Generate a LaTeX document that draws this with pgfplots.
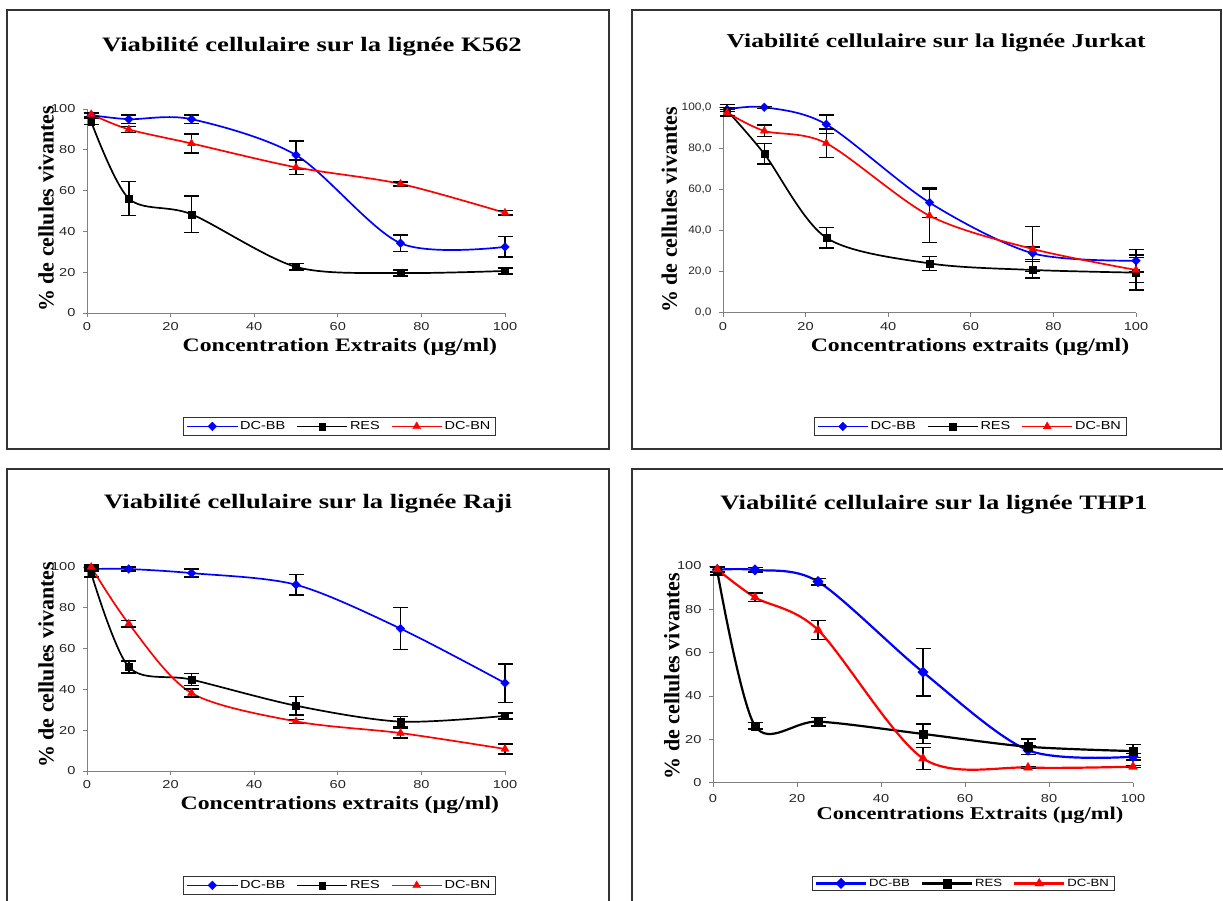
\documentclass[border=0pt]{standalone}
\usepackage{pgfplots}
\pgfplotsset{compat=1.18}
\usepackage{fontspec}
\setmainfont{Liberation Serif}
\newfontfamily\titlef[FakeStretch=1.3]{Liberation Serif}
\newfontfamily\labf[FakeStretch=1.25]{Liberation Serif}
\newfontfamily\tickf[FakeStretch=1.27]{Liberation Sans}
\newfontfamily\tickj[FakeStretch=1.1]{Liberation Sans}
\newfontfamily\legf[FakeStretch=1.25]{Liberation Sans}
\definecolor{cblue}{RGB}{0,0,255}
\definecolor{cred}{RGB}{255,0,0}
\definecolor{axgray}{RGB}{128,128,128}
\pgfplotsset{
 panel/.style={
  scale only axis, xmin=0, xmax=100, ymin=0, ymax=100,
  axis x line*=bottom, axis y line*=left,
  axis line style={axgray, line width=0.9pt, -},
  xtick={0,20,...,100}, ytick={0,20,...,100},
  tick align=outside, major tick length=4pt,
  every tick/.style={axgray, line width=0.9pt},
  tick label style={font=\tickf\fontsize{11.5}{13}\selectfont, text=black!85},
  xticklabel style={anchor=north, yshift=-3pt, inner ysep=2.5pt},
  yticklabel style={anchor=east, xshift=-4pt},
  /pgf/number format/assume math mode=true,
  clip=false,
  title style={font=\titlef\bfseries\fontsize{20.5}{24}\selectfont, anchor=base},
  xlabel style={font=\labf\bfseries\fontsize{19}{22}\selectfont, anchor=center},
  ylabel style={font=\bfseries\fontsize{22}{25}\selectfont, anchor=center},
  legend columns=3,
  legend style={draw=black!80, line width=0.8pt, anchor=center,
    font=\legf\fontsize{11.6}{13}\selectfont, inner xsep=3pt, inner ysep=2pt,
    /tikz/every even column/.append style={column sep=9pt}},
  legend image code/.code={\draw[mark repeat=2,mark phase=2] plot coordinates {(0pt,0pt) (25pt,0pt) (50pt,0pt)};},
  every axis plot/.append style={line width=1.7pt, smooth},
  error bars/y dir=both, error bars/y explicit,
  error bars/error bar style={black, line width=1.4pt, solid},
  error bars/error mark options={black, line width=1.4pt, mark size=7.5pt, rotate=90},
 },
 sBB/.style={cblue, mark=square*, mark size=3.1pt, mark options={solid, fill=cblue, rotate=45, line width=0.3pt}},
 sRES/.style={black, mark=square*, mark size=3.4pt, mark options={solid, fill=black, line width=0.3pt}},
 sBN/.style={cred, mark=triangle*, mark size=4.6pt, mark options={solid, fill=cred, line width=0.3pt}},
}
\begin{document}
\begin{tikzpicture}
\clip (0,0) rectangle (1223pt,901pt);
\fill[white] (0,0) rectangle (1223pt,901pt);
\draw[line width=1.2pt, black!80] (7pt,452pt) rectangle (609pt,891pt);
\draw[line width=1.2pt, black!80] (632pt,452pt) rectangle (1221pt,891pt);
\draw[line width=1.2pt, black!80] (7pt,-5pt) rectangle (609pt,432pt);
\draw[line width=1.2pt, black!80] (632pt,-5pt) rectangle (1240pt,432pt);

% ---------------- K562 ----------------
\begin{axis}[panel, at={(87pt,588pt)}, anchor=south west, width=418pt, height=204pt,
  title={Viabilité cellulaire sur la lignée K562},
  title style={at={(axis description cs:0.538,1.25)}},
  xlabel={Concentration Extraits (µg/ml)},
  xlabel style={at={(axis description cs:0.605,-0.165)}},
  ylabel={\% de cellules vivantes},
  ylabel style={at={(axis description cs:-0.098,0.51)}},
  legend style={at={(axis description cs:0.604,-0.556)}}]
\addplot[sBB] coordinates {(1,97) +- (0,1) (10,95) +- (0,2) (25,95) +- (0,2) (50,77.4) +- (0,7) (75,34.2) +- (0,4) (100,32.4) +- (0,5)};
\addlegendentry{DC-BB}
\addplot[sRES] coordinates {(1,93.8) +- (0,1.5) (10,56.1) +- (0,8.4) (25,48.4) +- (0,9) (50,22.6) +- (0,1.6) (75,19.6) +- (0,1.5) (100,20.6) +- (0,1.5)};
\addlegendentry{RES}
\addplot[sBN] coordinates {(1,97.4) +- (0,1) (10,90) +- (0,1.5) (25,83.1) +- (0,4.7) (50,71.4) +- (0,3.5) (75,63.3) +- (0,1) (100,49.1) +- (0,1)};
\addlegendentry{DC-BN}
\end{axis}

% ---------------- Jurkat ----------------
\begin{axis}[panel, at={(723pt,588.3pt)}, anchor=south west, width=413pt, height=205.4pt,
  yticklabel style={font=\tickj\fontsize{10.8}{12}\selectfont, /pgf/number format/.cd, fixed, fixed zerofill, precision=1, use comma},
  title={Viabilité cellulaire sur la lignée Jurkat},
  title style={at={(axis description cs:0.516,1.264)}, font=\titlef\bfseries\fontsize{19.7}{23}\selectfont},
  xlabel={Concentrations extraits (µg/ml)},
  xlabel style={at={(axis description cs:0.598,-0.165)}},
  ylabel={\% de cellules vivantes},
  ylabel style={at={(axis description cs:-0.13,0.5)}},
  legend style={at={(axis description cs:0.598,-0.554)}}]
\addplot[sBB] coordinates {(1,99) +- (0,1) (10,100) +- (0,0.5) (25,91.7) +- (0,4.6) (50,53.6) +- (0,7.3) (75,28.9) +- (0,3) (100,25.3) +- (0,5.5)};
\addlegendentry{DC-BB}
\addplot[sRES] coordinates {(1,98.4) +- (0,3) (10,77.3) +- (0,5) (25,36.5) +- (0,5) (50,24) +- (0,3.5) (75,20.8) +- (0,4) (100,19.5) +- (0,8.5)};
\addlegendentry{RES}
\addplot[sBN] coordinates {(1,97.4) +- (0,1.5) (10,88.5) +- (0,2.8) (25,82.5) +- (0,7) (50,47.2) +- (0,13) (75,31) +- (0,11) (100,20.8) +- (0,6)};
\addlegendentry{DC-BN}
\end{axis}

% ---------------- Raji ----------------
\begin{axis}[panel, at={(87pt,130pt)}, anchor=south west, width=418pt, height=204pt,
  title={Viabilité cellulaire sur la lignée Raji},
  title style={at={(axis description cs:0.529,1.255)}},
  xlabel={Concentrations extraits (µg/ml)},
  xlabel style={at={(axis description cs:0.605,-0.165)}},
  ylabel={\% de cellules vivantes},
  ylabel style={at={(axis description cs:-0.098,0.52)}},
  legend style={at={(axis description cs:0.604,-0.561)}}]
\addplot[sBB] coordinates {(1,99) +- (0,1) (10,99) +- (0,1) (25,97) +- (0,2) (50,91.3) +- (0,5) (75,69.8) +- (0,10.3) (100,43.1) +- (0,9.4)};
\addlegendentry{DC-BB}
\addplot[sRES] coordinates {(1,97) +- (0,2) (10,51) +- (0,3) (25,44.8) +- (0,3) (50,32) +- (0,4.6) (75,24.2) +- (0,2.5) (100,27) +- (0,1.5)};
\addlegendentry{RES}
\addplot[sBN] coordinates {(1,100) +- (0,1) (10,72.2) +- (0,1.7) (25,38.2) +- (0,2) (50,24.3) +- (0,1) (75,18.6) +- (0,2.5) (100,10.8) +- (0,2.5)};
\addlegendentry{DC-BN}
\end{axis}

% ---------------- THP1 ----------------
\begin{axis}[panel, at={(713pt,118.3pt)}, anchor=south west, width=420pt, height=216.7pt,
  every axis plot/.append style={line width=2.2pt},
  xticklabel style={yshift=-2pt},
  title={Viabilité cellulaire sur la lignée THP1},
  title style={at={(axis description cs:0.526,1.235)}},
  xlabel={Concentrations Extraits (µg/ml)},
  xlabel style={at={(axis description cs:0.612,-0.15)}, font=\labf\bfseries\fontsize{18}{21}\selectfont},
  ylabel={\% de cellules vivantes},
  ylabel style={at={(axis description cs:-0.098,0.492)}},
  legend style={at={(axis description cs:0.595,-0.465)}, font=\legf\fontsize{10.5}{12}\selectfont, inner ysep=1pt}]
\addplot[sBB, mark size=3.7pt] coordinates {(1,98.3) +- (0,1) (10,98.2) +- (0,1) (25,92.8) +- (0,1.5) (50,51) +- (0,11) (75,15) +- (0,2) (100,12) +- (0,1.5)};
\addlegendentry{DC-BB}
\addplot[sRES, mark size=4.2pt] coordinates {(1,97.8) +- (0,2) (10,26.2) +- (0,1.5) (25,28.2) +- (0,2) (50,22.5) +- (0,4.5) (75,16.6) +- (0,3.5) (100,14.6) +- (0,3)};
\addlegendentry{RES}
\addplot[sBN, mark size=5.2pt] coordinates {(1,98.5) +- (0,1) (10,85.5) +- (0,2) (25,70.5) +- (0,4.3) (50,11.2) +- (0,5) (75,7) +- (0,0.5) (100,7.4) +- (0,0.5)};
\addlegendentry{DC-BN}
\end{axis}
\end{tikzpicture}
\end{document}
